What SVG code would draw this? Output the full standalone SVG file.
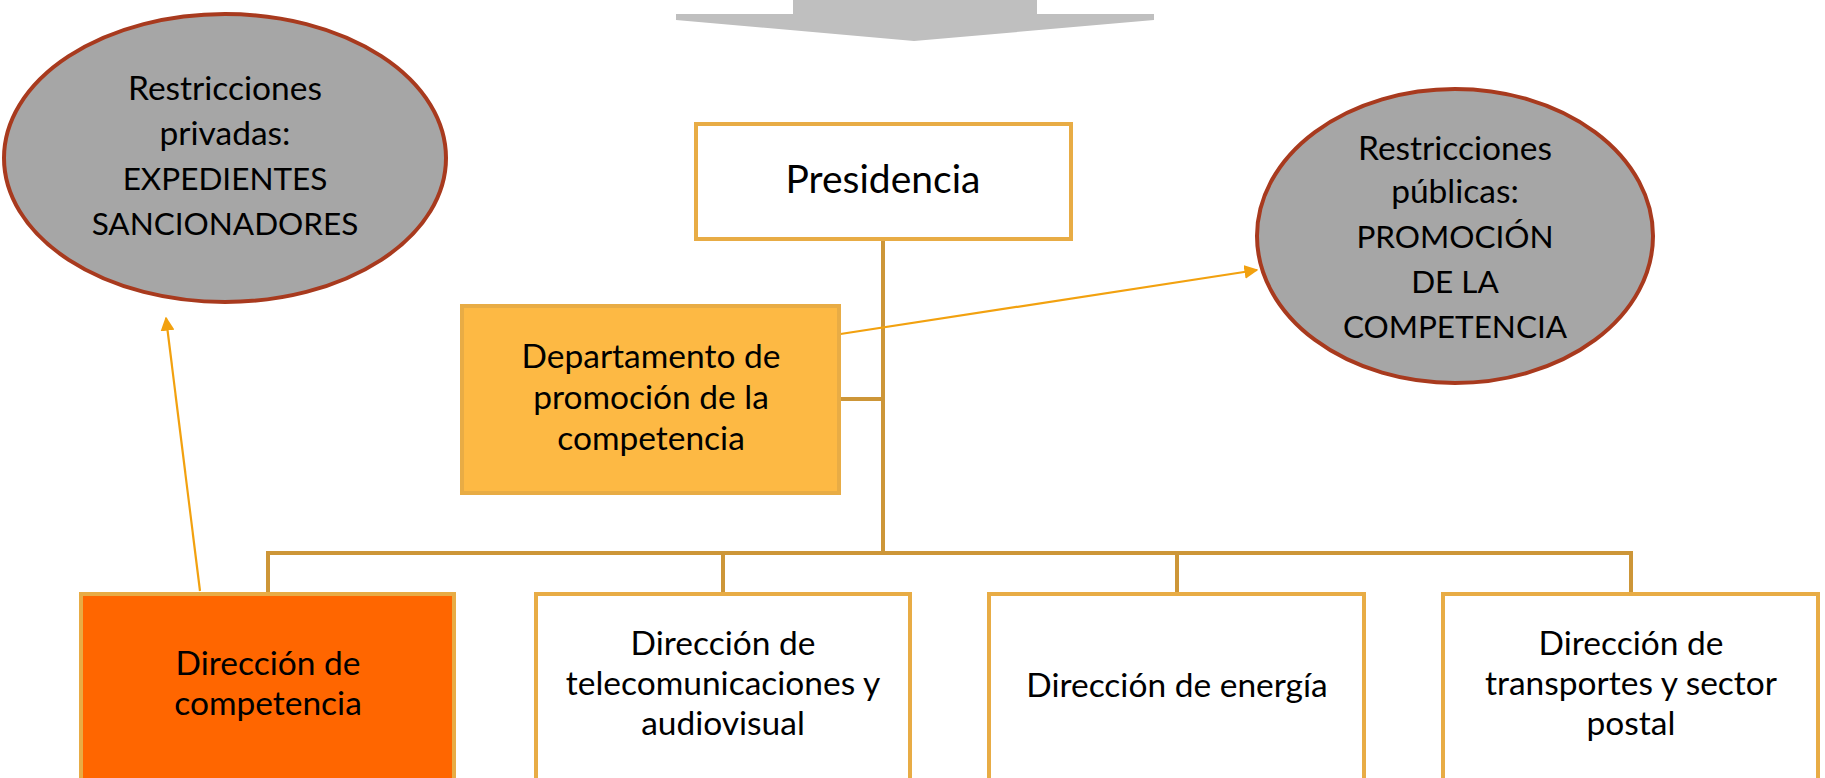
<svg xmlns="http://www.w3.org/2000/svg" width="1825" height="778" viewBox="0 0 1825 778">
<style>
text{font-family:Lato,"Liberation Sans",sans-serif;fill:#000;text-anchor:middle}
.box{stroke:#E8AC45;stroke-width:4}
.ell{fill:#A6A6A6;stroke:#A83A1E;stroke-width:4}
.tree{fill:none;stroke:#CD9638;stroke-width:4}
.link{fill:none;stroke:#F2A10F;stroke-width:2.2}
.t{font-size:33.5px}
.c{font-size:31.5px}
</style>
<defs>
<marker id="ah2" viewBox="0 0 10 10" refX="9" refY="5" markerWidth="14" markerHeight="14" orient="auto" markerUnits="userSpaceOnUse">
<path d="M0,0 L10,5 L0,10 z" fill="#F2A10F"/>
</marker>
</defs>
<g id="top-arrow">
<polygon points="793,0 1037,0 1037,14 1154,14 1154,20 914,41 676,20 676,14 793,14" fill="#BFBFBF"/>
</g>
<g id="connectors">
<path class="tree" d="M883,239 V554 M840,399 H883 M268,592 V553 H1631 V592 M723,553 V592 M1177,553 V592"/>
<line class="link" x1="821" y1="337" x2="1257" y2="270" marker-end="url(#ah2)"/>
<line class="link" x1="200" y1="591" x2="166" y2="318" marker-end="url(#ah2)"/>
</g>
<g id="ellipse-privadas">
<ellipse class="ell" cx="225" cy="158" rx="221" ry="144"/>
<text class="t" x="225" y="100">Restricciones</text>
<text class="t" x="225" y="145">privadas:</text>
<text class="c" x="225" y="190">EXPEDIENTES</text>
<text class="c" x="225" y="235">SANCIONADORES</text>
</g>
<g id="ellipse-publicas">
<ellipse class="ell" cx="1455" cy="236" rx="198" ry="147"/>
<text class="t" x="1455" y="160">Restricciones</text>
<text class="t" x="1455" y="203">públicas:</text>
<text class="c" x="1455" y="248">PROMOCIÓN</text>
<text class="c" x="1455" y="293">DE LA</text>
<text class="c" x="1455" y="338">COMPETENCIA</text>
</g>
<g id="presidencia">
<rect class="box" x="696" y="124" width="375" height="115" fill="#FFFFFF"/>
<text x="883" y="193" font-size="39px">Presidencia</text>
</g>
<g id="departamento">
<rect class="box" x="462" y="306" width="377" height="187" fill="#FDB944"/>
<text class="t" x="651" y="368">Departamento de</text>
<text class="t" x="651" y="409">promoción de la</text>
<text class="t" x="651" y="450">competencia</text>
</g>
<g id="dir-competencia">
<rect class="box" x="81" y="594" width="373" height="220" fill="#FF6600"/>
<text class="t" x="268" y="675">Dirección de</text>
<text class="t" x="268" y="715">competencia</text>
</g>
<g id="dir-telecom">
<rect class="box" x="536" y="594" width="374" height="220" fill="#FFFFFF"/>
<text class="t" x="723" y="655">Dirección de</text>
<text class="t" x="723" y="695">telecomunicaciones y</text>
<text class="t" x="723" y="735">audiovisual</text>
</g>
<g id="dir-energia">
<rect class="box" x="989" y="594" width="375" height="220" fill="#FFFFFF"/>
<text class="t" x="1177" y="697">Dirección de energía</text>
</g>
<g id="dir-transportes">
<rect class="box" x="1443" y="594" width="375" height="220" fill="#FFFFFF"/>
<text class="t" x="1631" y="655">Dirección de</text>
<text class="t" x="1631" y="695">transportes y sector</text>
<text class="t" x="1631" y="735">postal</text>
</g>
</svg>
